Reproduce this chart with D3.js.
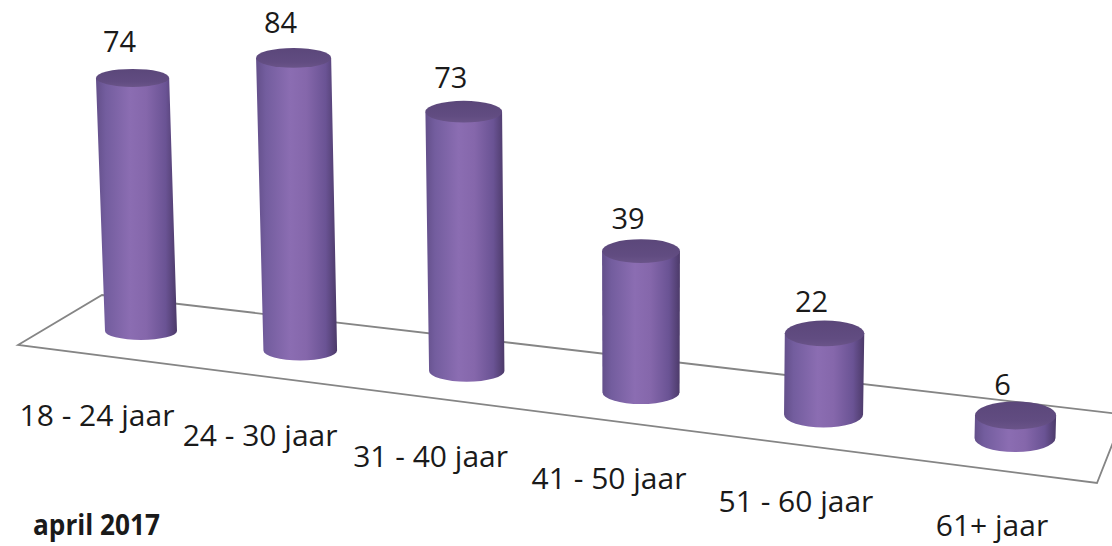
<!DOCTYPE html>
<html>
<head>
<meta charset="utf-8">
<script src="https://cdn.jsdelivr.net/npm/d3@7"></script>
<style>
  html, body { margin: 0; padding: 0; background: #fff; }
  svg { display: block; }
  text { font-family: "Open Sans", "Noto Sans", sans-serif; fill: #1a1a1a; }
</style>
</head>
<body>
<svg id="chart" width="1112" height="546"></svg>
<script>
// ---- data ----
const categories = ["18 - 24 jaar", "24 - 30 jaar", "31 - 40 jaar", "41 - 50 jaar", "51 - 60 jaar", "61+ jaar"];
const values = [74, 84, 73, 39, 22, 6];
const subtitle = "april 2017";

// ---- layout ----
const W = 1112, H = 546;
const svg = d3.select("#chart");

// category position along the floor (0..1) with perspective foreshortening
const pos = d3.scalePoint().domain(categories).range([0, 1]);
const R = 1.122;
const persp = t => t / (t + (1 - t) * R);

const xBase = d3.scaleLinear().domain([0, 1]).range([141, 1015]);
const yBase = d3.scaleLinear().domain([0, 1]).range([331, 438]);
const rxS = d3.scaleLinear().domain([0, 1]).range([36, 40.5]);
const ryS = d3.scaleLinear().domain([0, 1]).range([9, 14]);
const depthF = d3.scaleLinear().domain([0, 1]).range([1, 1.102]);
const yVal = d3.scaleLinear().domain([0, 100]).range([0, 342]);
const VPX = 641, VPD = 15000;

// gradient for cylinder sides
const defs = svg.append("defs");
const grad = defs.append("linearGradient").attr("id", "side")
  .attr("x1", "0%").attr("x2", "100%").attr("y1", "0%").attr("y2", "0%");
[[0, "#634f8a"], [0.12, "#735d9e"], [0.42, "#8b6db2"], [0.62, "#8567ab"], [0.86, "#6a5394"], [1, "#4c3a69"]]
  .forEach(([o, c]) => grad.append("stop").attr("offset", o).attr("stop-color", c));
const gradTop = defs.append("linearGradient").attr("id", "top")
  .attr("x1", "0%").attr("x2", "0%").attr("y1", "0%").attr("y2", "100%");
[[0, "#5b477a"], [0.7, "#614c81"], [1, "#6a5489"]]
  .forEach(([o, c]) => gradTop.append("stop").attr("offset", o).attr("stop-color", c));

// floor plane
const floor = [[18, 345], [102, 295], [1124, 414.6], [1097, 483]];
svg.append("path")
  .attr("d", d3.line()(floor) + "Z")
  .attr("fill", "#fff")
  .attr("stroke", "#858585")
  .attr("stroke-width", 1.8)
  .attr("stroke-linejoin", "miter");

// geometry per bar
const bars = categories.map((c, i) => {
  const s = persp(pos(c));
  const bx = xBase(s), by = yBase(s);
  const h = yVal(values[i]) * depthF(s);
  const rx = rxS(s), ry = ryS(s);
  const tx = bx + (bx - VPX) * h / VPD;
  const ty = by - h;
  const rxT = rx * (1 + h / VPD);
  return { c, v: values[i], s, bx, by, h, rx, ry, tx, ty, rxT };
});

const g = svg.append("g");
const bar = g.selectAll("g.bar").data(bars).join("g").attr("class", "bar");

bar.append("path")
  .attr("d", d => `M${d.bx - d.rx},${d.by} L${d.tx - d.rxT},${d.ty} L${d.tx + d.rxT},${d.ty} L${d.bx + d.rx},${d.by} A${d.rx},${d.ry} 0 0 1 ${d.bx - d.rx},${d.by} Z`)
  .attr("fill", "url(#side)");

bar.append("ellipse")
  .attr("cx", d => d.tx).attr("cy", d => d.ty)
  .attr("rx", d => d.rxT).attr("ry", d => d.ry)
  .attr("fill", "url(#top)");

// value labels
bar.append("text")
  .attr("x", d => d.tx - 13)
  .attr("y", d => d.ty - (25.5 - 5.5 * d.s))
  .attr("text-anchor", "middle")
  .attr("font-size", 29)
  .text(d => d.v);

// category labels
svg.selectAll("text.cat").data(bars).join("text").attr("class", "cat")
  .attr("x", d => d.bx - 44 + 21 * d.s)
  .attr("y", d => d.by + 95 + 3 * d.s)
  .attr("text-anchor", "middle")
  .attr("font-size", 30)
  .text(d => d.c);

// subtitle
svg.append("text")
  .attr("x", 33).attr("y", 535)
  .attr("font-size", 28)
  .attr("font-weight", "bold")
  .attr("textLength", 127)
  .attr("lengthAdjust", "spacingAndGlyphs")
  .text(subtitle);
</script>
</body>
</html>
